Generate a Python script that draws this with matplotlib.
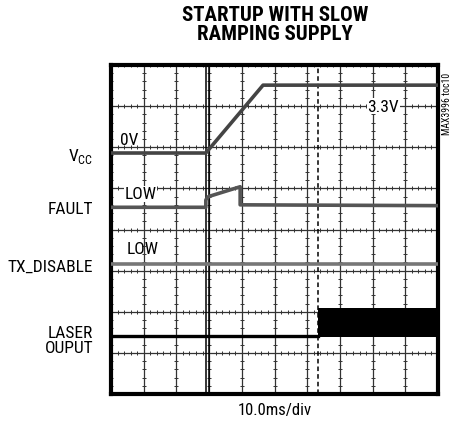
import numpy as np
import matplotlib
matplotlib.use('Agg')
import matplotlib.pyplot as plt
from matplotlib import font_manager

#pick a narrow family if one is installed
names={f.name for f in font_manager.fontManager.ttflist}
narrow=[n for n in ['Roboto Condensed', 'Liberation Sans Narrow', 'Open Sans Condensed', 'Noto Sans Display', 'Roboto'] if n in names]
fam=narrow[0] if narrow else 'DejaVu Sans'
plt.rcParams['font.family'] = [fam, 'DejaVu Sans']
condensed = fam!='Roboto'
fs=12.5 if condensed else 11

#traces in scope divisions (x: 0-10 div, y: 0-8 div)
vcc_x=[0.0, 2.90, 4.65, 10.0]
vcc_y=[5.86, 5.86, 7.51, 7.51]

fault_x=[0.0, 2.90, 2.90, 2.98, 3.95, 3.95, 10.0]
fault_y=[4.54, 4.54, 4.72, 4.80, 5.04, 4.60, 4.58]

txd_x=[0.0, 10.0]
txd_y=[3.15, 3.15]

laser_x=[0.0, 6.33]
laser_y=[1.40, 1.40]

#laser burst band after enable
burst_x=[6.33, 10.0]
burst_lo=[1.38, 1.38]
burst_hi=[2.09, 2.09]

#cursors
cursor_x=[2.90, 3.0]
dash_x=6.33

channel_labels=['V$_{\\mathregular{CC}}$', 'FAULT', 'TX_DISABLE', 'LASER\nOUPUT']
channel_label_y=[5.8, 4.5, 3.1, 1.32]

fig=plt.figure(figsize=(4.53, 4.31), dpi=100)
ax=fig.add_axes([111/453, 36/431, 327/453, 329/431])
ax.set_xlim(0, 10)
ax.set_ylim(0, 8)

#graticule
for k in range(1, 10):
    ax.axvline(k, color='#333333', lw=0.9, zorder=1)
for k in range(1, 8):
    ax.axhline(k, color='#333333', lw=0.9, zorder=1)
mx=np.arange(0, 10.01, 0.2)
my=np.arange(0, 8.01, 0.2)
for k in range(0, 9):
    ax.plot(mx, np.full(len(mx), k), ls='none', marker='|', ms=2.2, mew=0.7, color='#333333', zorder=1)
for k in range(0, 11):
    ax.plot(np.full(len(my), k), my, ls='none', marker='_', ms=2.2, mew=0.7, color='#333333', zorder=1)

for cx in cursor_x:
    ax.axvline(cx, color='black', lw=1.1, zorder=2)
ax.axvline(dash_x, color='black', lw=1.1, ls=(0, (3, 2)), zorder=2)

#traces
ax.plot(vcc_x, vcc_y, color='#444444', lw=2.6, zorder=3)
ax.plot(fault_x, fault_y, color='#555555', lw=2.6, zorder=3)
ax.plot(txd_x, txd_y, color='#777777', lw=2.6, zorder=3)
ax.plot(laser_x, laser_y, color='black', lw=2.4, zorder=3)
ax.fill_between(burst_x, burst_lo, burst_hi, color='black', lw=0, zorder=3)

#annotations inside the screen
ax.text(0.28, 6.2, '0V', fontsize=fs, ha='left', va='center', zorder=4)
ax.text(8.32, 7.0, '3.3V', fontsize=fs, ha='center', va='center', zorder=4,
        bbox=dict(facecolor='white', edgecolor='none', pad=0.5))
ax.text(0.42, 4.87, 'LOW', fontsize=fs, ha='left', va='center', zorder=4,
        bbox=dict(facecolor='white', edgecolor='none', pad=0.3))
ax.text(0.47, 3.53, 'LOW', fontsize=fs, ha='left', va='center', zorder=4)

ax.set_xticks([])
ax.set_yticks([])
for s in ax.spines.values():
    s.set_linewidth(3.0)
    s.set_color('black')

for lab, ly in zip(channel_labels, channel_label_y):
    ax.text(-0.55, ly, lab, fontsize=fs, ha='right', va='center', linespacing=1.0)

fig.text(275/453, 1-25/431, 'STARTUP WITH SLOW\nRAMPING SUPPLY', fontsize=fs+2.5, fontweight='heavy',
         ha='center', va='center', linespacing=1.05)
fig.text(275/453, 1-411/431, '10.0ms/div', fontsize=fs-0.5, ha='center', va='center')
fig.text(447/453, 1-104/431, 'MAX3996 toc10', fontsize=7, rotation=90, ha='center', va='center')

fig.savefig('out.png', dpi=100, facecolor='white')
